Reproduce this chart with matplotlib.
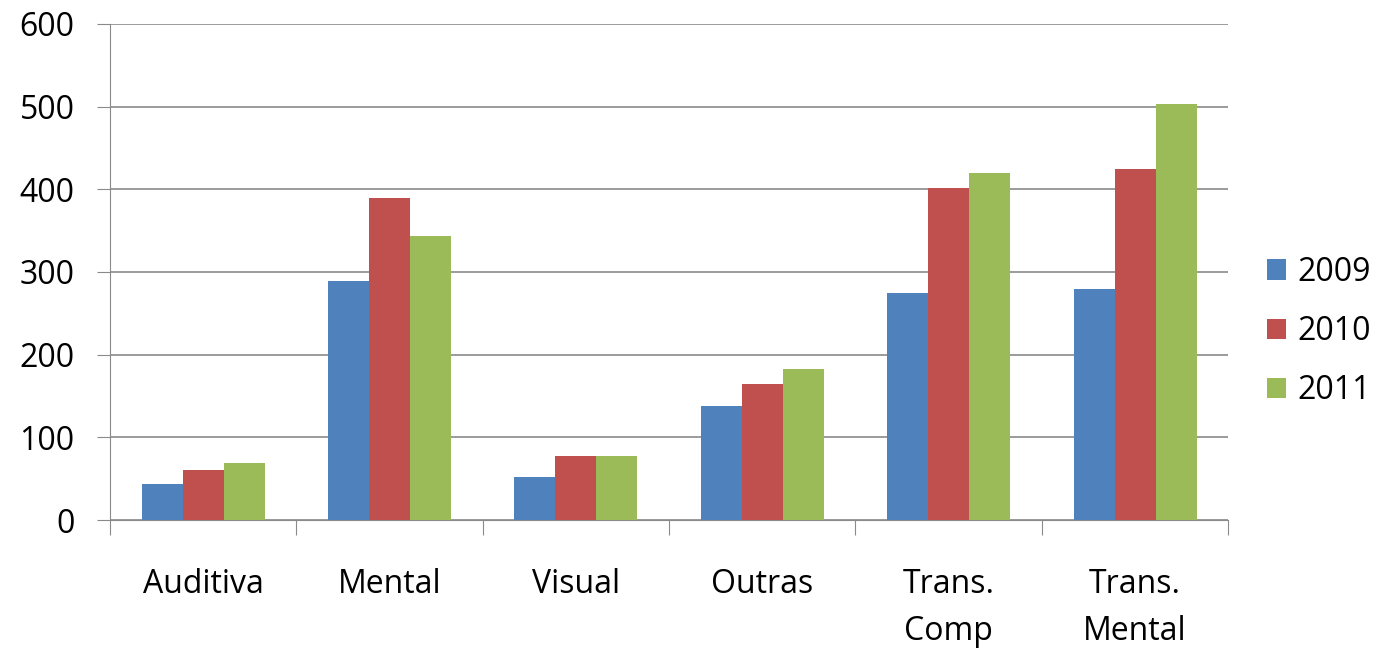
import matplotlib.pyplot as plt
import numpy as np

categories = ['Auditiva', 'Mental', 'Visual', 'Outras', 'Trans.\nComp', 'Trans.\nMental']
years = ['2009', '2010', '2011']
v2009 = [44, 289, 52, 138, 275, 279]
v2010 = [61, 389, 78, 165, 401, 424]
v2011 = [69, 344, 78, 183, 420, 503]
colors = ['#4F81BD', '#C0504D', '#9BBB59']

plt.rcParams['font.family'] = ['Open Sans', 'DejaVu Sans']

fig = plt.figure(figsize=(13.8, 6.48), dpi=100)
ax = fig.add_axes([0.0797, 0.1975, 0.8103, 0.7655])

x = np.arange(len(categories))
w = 0.22
for i, (vals, lab) in enumerate(zip([v2009, v2010, v2011], years)):
    ax.bar(x + (i - 1) * w, vals, w, color=colors[i], label=lab, zorder=3)

ax.set_xlim(-0.5, len(categories) - 0.5)
ax.set_ylim(0, 600)
ax.set_yticks(range(0, 601, 100))
ax.yaxis.grid(True, color='#8a8a8a', linewidth=1.2, zorder=0)
ax.set_axisbelow(True)

for s in ['top', 'right']:
    ax.spines[s].set_visible(False)
ax.spines['left'].set_color('#8a8a8a')
ax.spines['bottom'].set_color('#8a8a8a')

# category boundaries as major ticks, names as minor ticks
ax.set_xticks(np.arange(len(categories) + 1) - 0.5, minor=False)
ax.set_xticklabels([])
ax.tick_params(axis='x', length=11, color='#8a8a8a')
ax.set_xticks(x, minor=True)
ax.set_xticklabels(categories, minor=True, fontsize=23, linespacing=1.55)
ax.tick_params(axis='x', which='minor', length=0, pad=34.5)
ax.tick_params(axis='y', length=9.5, color='#8a8a8a', labelsize=23, pad=16)
for t in ax.get_xticklabels(minor=True):
    t.set_verticalalignment('top')

ax.legend(loc='center left', bbox_to_anchor=(1.0, 0.38), frameon=False,
          fontsize=23, handlelength=0.6, handleheight=0.6, labelspacing=0.82,
          handletextpad=0.35, borderaxespad=1.2, borderpad=0)

fig.savefig('out.png', dpi=100)
